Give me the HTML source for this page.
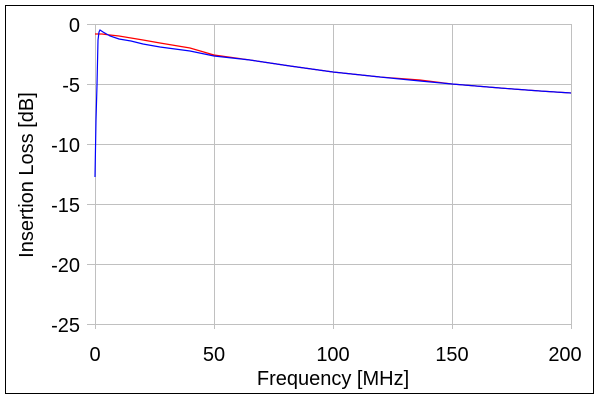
<!DOCTYPE html>
<html><head><style>body{margin:0;background:#fff}</style></head><body>
<svg width="600" height="400" xmlns="http://www.w3.org/2000/svg" font-family="Liberation Sans, sans-serif">
<rect x="0" y="0" width="600" height="400" fill="#fff"/>
<rect x="5.5" y="5.5" width="588" height="388" fill="none" stroke="#000"/>
<g stroke="#c0c0c0" stroke-width="1">
<line x1="87" y1="24.5" x2="571" y2="24.5"/>
<line x1="87" y1="84.5" x2="571" y2="84.5"/>
<line x1="87" y1="144.5" x2="571" y2="144.5"/>
<line x1="87" y1="204.5" x2="571" y2="204.5"/>
<line x1="87" y1="264.5" x2="571" y2="264.5"/>
<line x1="87" y1="324.5" x2="571" y2="324.5"/>
<line x1="95.5" y1="24" x2="95.5" y2="329"/>
<line x1="214.5" y1="24" x2="214.5" y2="329"/>
<line x1="333.5" y1="24" x2="333.5" y2="329"/>
<line x1="452.5" y1="24" x2="452.5" y2="329"/>
<line x1="571.5" y1="24" x2="571.5" y2="329"/>
</g>
<g font-size="20" text-anchor="end" fill="#000">
<text x="80" y="32">0</text>
<text x="80" y="92">-5</text>
<text x="80" y="152">-10</text>
<text x="80" y="212">-15</text>
<text x="80" y="272">-20</text>
<text x="80" y="332">-25</text>
</g>
<g font-size="20" text-anchor="middle" fill="#000">
<text x="95" y="361">0</text>
<text x="214" y="361">50</text>
<text x="333" y="361">100</text>
<text x="452" y="361">150</text>
<text x="565" y="361">200</text>
<text x="333" y="385">Frequency [MHz]</text>
<text transform="translate(33,175) rotate(-90)">Insertion Loss [dB]</text>
</g>
<polyline fill="none" stroke="#f00" stroke-width="1.2" points="95,34 102,34 110,35 119,36 131,38 143,40 160,43 190,48 214,55 250,60 290,66 333,72 380,77 420,80 452,84 500,88 540,91 571,93"/>
<polyline fill="none" stroke="#00f" stroke-width="1.2" points="95,177 96,120 97,85 98,40 99,32 100,30 103,32 110,36 119,39 131,41 143,44 160,47 190,51 214,56 250,60 290,66 333,72 380,77 420,81 452,84 500,88 540,91 571,93"/>
</svg>
</body></html>
